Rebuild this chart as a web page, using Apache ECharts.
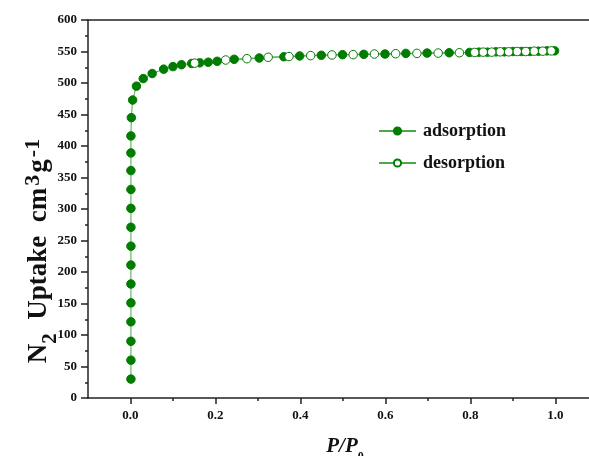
<!DOCTYPE html>
<html>
<head>
<meta charset="utf-8">
<script src="https://cdn.jsdelivr.net/npm/echarts@6/dist/echarts.min.js"></script>
<style>
html,body{margin:0;padding:0;background:#fff;}
#chart{width:589px;height:456px;}
</style>
</head>
<body>
<div id="chart"></div>
<script>
// ---- data ----
const adsX = [0.001,0.001,0.001,0.001,0.001,0.001,0.001,0.001,0.001,0.001,0.001,0.001,0.001,0.001,
  0.002,0.005,0.014,0.030,0.051,0.078,0.100,0.120,0.144,0.163,0.183,0.204,0.244,0.303,0.361,0.398,
  0.449,0.499,0.549,0.599,0.648,0.698,0.750,0.798,0.820,0.840,0.860,0.880,0.900,0.920,0.940,0.960,0.980,0.998];
const adsY = [30,60,90,121,151,181,211,241,271,301,331,361,389,416,
  445,473,495,507,515,522,526,529,531,532,533,534.4,537.6,539.7,541.7,542.9,
  544,545,545.5,546,547,547.5,548,548.5,549,549,549.5,549.5,550,550,550,550.5,551,551];
const desX = [0.990,0.970,0.950,0.930,0.910,0.890,0.870,0.850,0.830,0.810,0.774,0.724,0.674,0.624,0.574,0.524,0.474,0.424,0.373,0.324,0.274,0.224,0.151];
const desY = [551,550.5,550.5,550,550,549.5,549.5,549,549,548.5,548,547.5,547,546.5,546,545,544.5,543.5,542,540.8,538.6,536.5,531.5];
const seriesNames = ['adsorption','desorption'];
const xMajorTicks = [0,0.2,0.4,0.6,0.8,1.0];
const xMinorTicks = [0.1,0.3,0.5,0.7,0.9];

const green = '#007d00';
const lineGreen = '#4fa84f';
const font = 'Liberation Serif';

const chart = echarts.init(document.getElementById('chart'), null, {renderer:'canvas'});
const pairs = (xs, ys) => xs.map((x,i)=>[x, ys[i]]);

chart.setOption({
  animation:false,
  backgroundColor:'#fff',
  grid:{left:88, top:20, bottom:58, right:0, containLabel:false},
  xAxis:[
    {type:'value', min:-0.1, max:1.079, position:'bottom',
     axisLine:{show:true, onZero:false, lineStyle:{color:'#222', width:1.5}},
     axisTick:{show:true, customValues:xMajorTicks, length:6, lineStyle:{color:'#222', width:1.5}},
     axisLabel:{show:true, customValues:xMajorTicks, margin:11, color:'#111', fontFamily:font, fontWeight:'bold', fontSize:13,
       formatter:v=>v.toFixed(1)},
     splitLine:{show:false}},
    {type:'value', min:-0.1, max:1.079, position:'bottom',
     axisLine:{show:false, onZero:false},
     axisTick:{show:true, customValues:xMinorTicks, length:3, lineStyle:{color:'#222', width:1.5}},
     axisLabel:{show:false}, splitLine:{show:false}},
    {type:'value', min:-0.1, max:1.079, position:'top',
     axisLine:{show:true, onZero:false, lineStyle:{color:'#222', width:1.5}},
     axisTick:{show:false}, axisLabel:{show:false}, splitLine:{show:false}}
  ],
  yAxis:{type:'value', min:0, max:600, interval:50,
    axisLine:{show:true, onZero:false, lineStyle:{color:'#222', width:1.5}},
    axisTick:{show:true, length:7, lineStyle:{color:'#222', width:1.5}},
    minorTick:{show:true, splitNumber:2, length:3, lineStyle:{color:'#222', width:1.5}},
    axisLabel:{margin:11, color:'#111', fontFamily:font, fontWeight:'bold', fontSize:13},
    splitLine:{show:false}
  },
  legend:{
    orient:'vertical', left:373, top:117, itemWidth:37, itemHeight:9, itemGap:14,
    data:seriesNames,
    textStyle:{fontFamily:font, fontWeight:'bold', fontSize:18, color:'#111', padding:[0,0,0,2]}
  },
  graphic:[
    {type:'text', x:38, y:250, rotation:Math.PI/2,
     style:{
       text:'{m|N}{s|2}{m|  Uptake  cm}{p|3}{m|g}{p|-1}',
       align:'center', verticalAlign:'middle',
       rich:{
         m:{fontFamily:font, fontWeight:'bold', fontSize:27, fill:'#111', verticalAlign:'bottom', lineHeight:30},
         s:{fontFamily:font, fontWeight:'bold', fontSize:21, fill:'#111', verticalAlign:'bottom', lineHeight:20, padding:[0,0,-8,0]},
         p:{fontFamily:font, fontWeight:'bold', fontSize:22, fill:'#111', verticalAlign:'bottom', lineHeight:20, padding:[0,2,9,2]}
       }
     }},
    {type:'text', x:345, y:446,
     style:{
       text:'{i|P/P}{s|0}',
       align:'center', verticalAlign:'middle',
       rich:{
         i:{fontFamily:font, fontWeight:'bold', fontStyle:'italic', fontSize:21, fill:'#111', verticalAlign:'bottom', lineHeight:22},
         s:{fontFamily:font, fontWeight:'bold', fontSize:12, fill:'#111', verticalAlign:'bottom', lineHeight:12, padding:[0,0,-6,0]}
       }
     }}
  ],
  series:[
    {name:seriesNames[0], type:'line', xAxisIndex:0, data:pairs(adsX, adsY),
     symbol:'circle', symbolSize:8.5, showAllSymbol:true,
     lineStyle:{color:lineGreen, width:1},
     itemStyle:{color:green, borderColor:green, borderWidth:1}},
    {name:seriesNames[1], type:'line', xAxisIndex:0, data:pairs(desX, desY),
     symbol:'circle', symbolSize:8.5, showAllSymbol:true,
     lineStyle:{color:lineGreen, width:1},
     itemStyle:{color:'#ffffff', borderColor:green, borderWidth:1}}
  ]
});
</script>
</body>
</html>
